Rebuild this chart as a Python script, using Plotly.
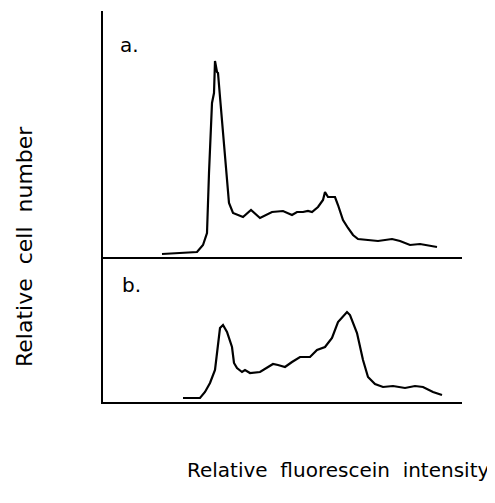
import plotly.graph_objects as go
from plotly.subplots import make_subplots

# Panel a: relative fluorescein intensity (channel) vs relative cell number
a_x = [59, 77, 94, 100, 104, 106, 108, 109, 111, 112, 114, 115, 117, 120, 124, 126, 130, 140, 148, 157,
       169, 180, 189, 194, 200, 205, 209, 215, 220, 222, 225, 232, 235, 240, 245, 250, 255, 270, 275,
       289, 297, 307, 317, 334]
a_y = [3, 4, 5, 12, 24, 84, 124, 154, 164, 196, 185, 184, 160, 124, 84, 54, 44, 40, 47, 39,
       45, 46, 42, 45, 45, 46, 45, 50, 57, 65, 60, 60, 52, 37, 29, 22, 18, 17, 16,
       18, 16, 12, 13, 10]

# Panel b
b_x = [80, 97, 102, 107, 112, 115, 117, 120, 124, 129, 131, 134, 139, 142, 147, 157, 164, 170, 175, 182,
       189, 197, 207, 214, 222, 229, 235, 244, 247, 254, 260, 265, 272, 280, 290, 302, 312, 320, 330, 339]
b_y = [4, 4, 10, 19, 32, 59, 74, 77, 70, 55, 39, 34, 30, 32, 29, 30, 34, 38, 37, 35,
       40, 45, 45, 52, 55, 64, 80, 90, 87, 69, 42, 25, 18, 15, 16, 14, 16, 15, 10, 7]

x_title = "Relative  fluorescein  intensity"
y_title = "Relative  cell  number"
panel_labels = ["a.", "b."]

pa_top, pb_top = 246, 145
total = pa_top + pb_top
split = pb_top / total
x_max = 359

fig = make_subplots(rows=2, cols=1, shared_xaxes=False, vertical_spacing=0)
fig.add_trace(go.Scatter(x=a_x, y=a_y, mode="lines", line=dict(color="black", width=2.2)), row=1, col=1)
fig.add_trace(go.Scatter(x=b_x, y=b_y, mode="lines", line=dict(color="black", width=2.2)), row=2, col=1)

axis_common = dict(showgrid=False, zeroline=False, showticklabels=False, ticks="",
                   showline=True, linecolor="black", linewidth=2)
# page body has an 8px default margin, so the figure is drawn 8px smaller and offset
fig.update_layout(
    width=487, height=495,
    margin=dict(l=95, r=487 - 95 - x_max, t=3, b=101),
    paper_bgcolor="white", plot_bgcolor="white",
    showlegend=False,
    font=dict(family="DejaVu Sans", color="black"),
    xaxis=dict(range=[0, x_max], domain=[0, 1], anchor="y", **axis_common),
    yaxis=dict(range=[0, pa_top], domain=[split, 1], anchor="x", **axis_common),
    xaxis2=dict(range=[0, x_max], domain=[0, 1], anchor="y2", **axis_common),
    yaxis2=dict(range=[0, pb_top], domain=[0, split], anchor="x2", **axis_common),
)

def px(xp, yp):
    # convert window pixel position to paper coords (plot area 103..462, 11..402)
    return (xp - 103) / float(x_max), (402 - yp) / 391.0

for lab, pos in zip(panel_labels, [(129, 45), (131, 285)]):
    x, y = px(*pos)
    fig.add_annotation(text=lab, xref="paper", yref="paper", x=x, y=y, xanchor="center", yanchor="middle",
                       showarrow=False, font=dict(size=20, family="DejaVu Sans"))
x, y = px(25, 247)
fig.add_annotation(text=y_title, xref="paper", yref="paper", x=x, y=y, textangle=-90,
                   xanchor="center", yanchor="middle",
                   showarrow=False, font=dict(size=22, family="DejaVu Sans"))
x, y = px(338, 470)
fig.add_annotation(text=x_title, xref="paper", yref="paper", x=x, y=y, xanchor="center", yanchor="middle",
                   showarrow=False, font=dict(size=20, family="DejaVu Sans"))

fig.write_html("out.html")
